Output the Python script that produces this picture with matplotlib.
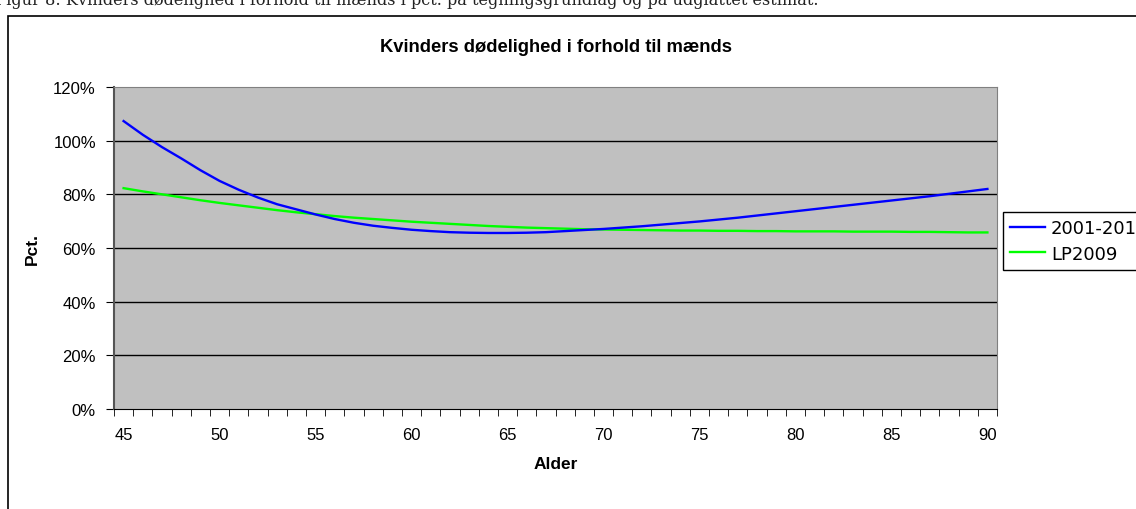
import numpy as np
import matplotlib.pyplot as plt
from matplotlib.patches import Rectangle

ages = np.arange(45, 91)
# kvinders dødelighed i pct. af mænds
obs_2001_2010 = [107.3, 102.2, 97.6, 93.4, 89.0, 85.0, 81.7, 78.8, 76.3, 74.4,
                 72.5, 70.8, 69.4, 68.3, 67.5, 66.8, 66.3, 65.9, 65.7, 65.6,
                 65.6, 65.7, 65.9, 66.3, 66.7, 67.1, 67.6, 68.1, 68.7, 69.3,
                 69.9, 70.6, 71.3, 72.1, 72.9, 73.7, 74.5, 75.3, 76.1, 76.9,
                 77.7, 78.5, 79.3, 80.2, 81.1, 82.0]
lp2009 = [82.3, 81.1, 80.0, 78.9, 77.8, 76.8, 75.9, 75.0, 74.1, 73.3,
          72.6, 71.9, 71.3, 70.8, 70.3, 69.8, 69.4, 69.0, 68.6, 68.2,
          67.9, 67.6, 67.4, 67.2, 67.0, 66.9, 66.8, 66.7, 66.6, 66.5,
          66.5, 66.4, 66.4, 66.3, 66.3, 66.2, 66.2, 66.2, 66.1, 66.1,
          66.1, 66.0, 66.0, 65.9, 65.8, 65.8]
series_names = ['2001-2010', 'LP2009']
y_ticks = np.arange(0, 121, 20)
x_ticks = np.arange(45, 91, 5)

plt.rcParams['font.family'] = ['Liberation Sans', 'DejaVu Sans']

fig = plt.figure(figsize=(11.36, 5.10), dpi=100)

# caption above the chart box
fig.text(-0.004, 1.0, 'Figur 8: Kvinders dødelighed i forhold til mænds i pct. på tegningsgrundlag og på udglattet estimat.',
         fontsize=11.6, family='DejaVu Serif', color='#222222', ha='left', va='center')

# chart box
fig.patches.append(Rectangle((8 / 1136, -0.1), 1.2, 1 - 17 / 510 + 0.1,
                             transform=fig.transFigure, fill=False,
                             edgecolor='black', linewidth=1.2))

ax = fig.add_axes([114 / 1136, 1 - 410 / 510, 883 / 1136, 322 / 510])
ax.set_facecolor('#C0C0C0')

for v in y_ticks[1:-1]:
    ax.axhline(v, color='black', linewidth=1, zorder=1)

l1, = ax.plot(ages, obs_2001_2010, color='#0000FF', linewidth=1.7, zorder=3)
l2, = ax.plot(ages, lp2009, color='#00FF00', linewidth=1.7, zorder=2)

ax.set_xlim(44.5, 90.5)
ax.set_ylim(0, 120)
ax.set_yticks(y_ticks)
ax.set_yticklabels([f'{v}%' for v in y_ticks], fontsize=12)
ax.set_xticks(x_ticks)
ax.set_xticklabels([str(v) for v in x_ticks], fontsize=12)
ax.set_xticks(np.arange(44.5, 91, 1), minor=True)
ax.tick_params(axis='x', which='major', length=0, pad=13)
ax.tick_params(axis='x', which='minor', length=5, direction='out', color='black')
ax.tick_params(axis='y', length=6, direction='out', color='black', pad=7)

for side in ['top', 'right']:
    ax.spines[side].set_color('#808080')
ax.spines['left'].set_color('#555555')
ax.spines['left'].set_linewidth(1.5)
ax.spines['bottom'].set_color('black')

ax.set_title('Kvinders dødelighed i forhold til mænds', fontsize=13.2,
             fontweight='bold', pad=26)
ax.set_xlabel('Alder', fontsize=12.5, fontweight='bold', labelpad=10)
ax.set_ylabel('Pct.', fontsize=12.5, fontweight='bold')
ax.yaxis.set_label_coords(-0.084, 0.5)

fig.legend([l1, l2], series_names, loc='upper left',
           bbox_to_anchor=(1003 / 1136, 1 - 213 / 510),
           frameon=True, fancybox=False, edgecolor='black', framealpha=1,
           prop={'family': 'DejaVu Sans', 'size': 13},
           handlelength=1.95, handletextpad=0.3, borderpad=0.4,
           labelspacing=0.42, borderaxespad=0)

fig.savefig('out.png', dpi=100)
